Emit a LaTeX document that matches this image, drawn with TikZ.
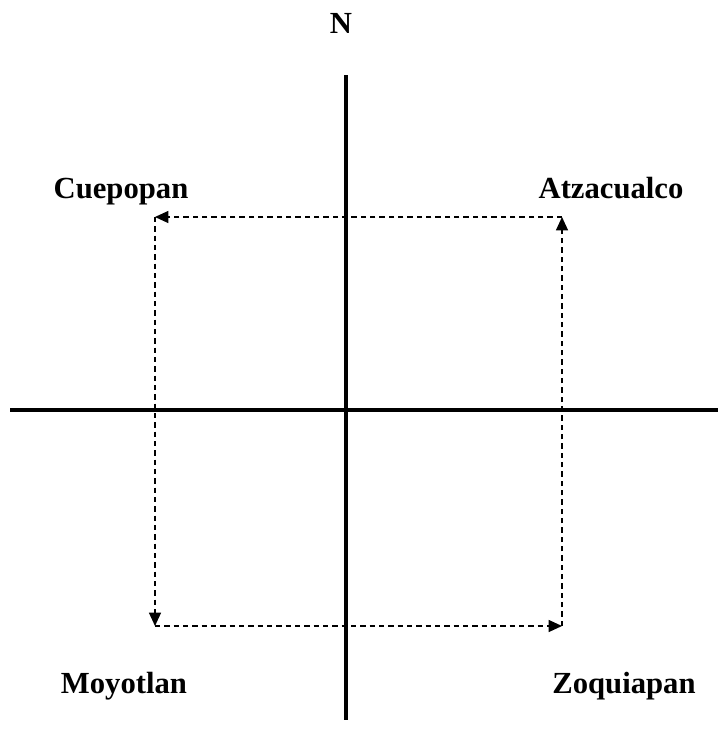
\documentclass[tikz,border=0pt]{standalone}
\usepackage{fontspec}
\setmainfont{Liberation Serif}
\usepackage{tikz}
\usetikzlibrary{arrows.meta,positioning}

\begin{document}
\begin{tikzpicture}[x=0.75pt, y=-0.75pt, font=\fontsize{23}{27}\selectfont\bfseries,
    eje/.style={line width=3pt},
    barrio/.style={anchor=base, inner sep=0pt},
    ruta/.style={-{Triangle[length=10pt,width=9pt]}, dashed, line width=0.9pt, dash pattern=on 4pt off 3pt}]
  \useasboundingbox (0,0) rectangle (718,751);

  % ejes
  \coordinate (nTop) at (346,75);
  \coordinate (nBot) at (346,720);
  \coordinate (wEnd) at (10,410);
  \coordinate (eEnd) at (718,410);
  \draw[eje] (nTop) -- (nBot);
  \draw[eje] (wEnd) -- (eEnd);

  \node[barrio] (N) at (341,33) {N};

  % barrios
  \node[barrio] (Cuepopan) at (121,198) {Cuepopan};
  \node[barrio] (Atzacualco) at (611,198) {Atzacualco};
  \node[barrio] (Moyotlan) at (124,693) {Moyotlan};
  \node[barrio] (Zoquiapan) at (624,693) {Zoquiapan};

  % esquinas del recorrido
  \coordinate (cNW) at (155,217);
  \coordinate (cNE) at (562,217);
  \coordinate (cSW) at (155,626);
  \coordinate (cSE) at (562,626);

  % recorrido
  \draw[ruta] (cNE) -- (cNW);
  \draw[ruta] (cNW) -- (cSW);
  \draw[ruta] (cSW) -- (cSE);
  \draw[ruta] (cSE) -- (cNE);
\end{tikzpicture}
\end{document}
